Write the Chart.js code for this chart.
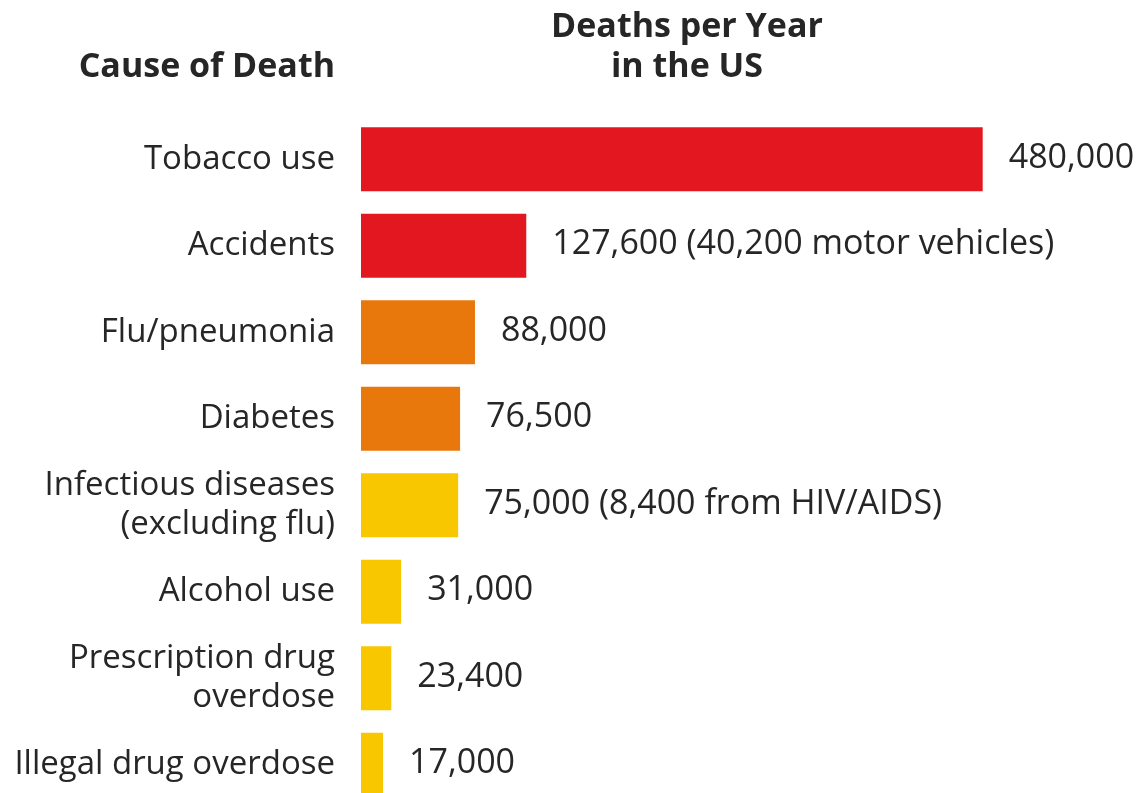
<!DOCTYPE html>
<html>
<head>
<meta charset="utf-8">
<title>Deaths per Year in the US</title>
<script src="https://cdn.jsdelivr.net/npm/chart.js@4/dist/chart.umd.min.js"></script>
<style>
  html, body { margin: 0; padding: 0; background: #fff; overflow: hidden; }
  #clip { width: 1142px; height: 793px; overflow: hidden; }
  #chart { display: block; width: 1142px; height: 808px; }
</style>
</head>
<body>
<div id="clip">
  <canvas id="chart" width="1142" height="808"></canvas>
</div>
<script>
// data
const causes = [
  'Tobacco use',
  'Accidents',
  'Flu/pneumonia',
  'Diabetes',
  ['Infectious diseases', '(excluding flu)'],
  'Alcohol use',
  ['Prescription drug', 'overdose'],
  'Illegal drug overdose'
];
const deaths = [480000, 127600, 88000, 76500, 75000, 31000, 23400, 17000];
const valueLabels = [
  '480,000',
  '127,600 (40,200 motor vehicles)',
  '88,000',
  '76,500',
  '75,000 (8,400 from HIV/AIDS)',
  '31,000',
  '23,400',
  '17,000'
];

const RED = '#E3171F', ORANGE = '#E9780C', YELLOW = '#F9C700';
const barColors = [RED, RED, ORANGE, ORANGE, YELLOW, YELLOW, YELLOW, YELLOW];
const textColor = '#262626';
const fontFamily = '"Open Sans", "Noto Sans", sans-serif';

// value text at the end of each bar
const valueLabelPlugin = {
  id: 'valueLabels',
  afterDatasetsDraw(chart) {
    const ctx = chart.ctx;
    const meta = chart.getDatasetMeta(0);
    ctx.save();
    ctx.font = '34px ' + fontFamily;
    ctx.fillStyle = textColor;
    ctx.textAlign = 'left';
    ctx.textBaseline = 'middle';
    meta.data.forEach((bar, i) => {
      ctx.fillText(valueLabels[i], bar.x + 26, bar.y - 1);
    });
    ctx.restore();
  }
};

// the two column headers
const headerPlugin = {
  id: 'headers',
  afterDraw(chart) {
    const ctx = chart.ctx;
    const yScale = chart.scales.y;
    ctx.save();
    ctx.font = 'bold 34px ' + fontFamily;
    ctx.fillStyle = textColor;
    ctx.textBaseline = 'alphabetic';
    ctx.textAlign = 'right';
    ctx.fillText('Cause of Death', yScale.right - 26, 77);
    ctx.textAlign = 'center';
    ctx.fillText('Deaths per Year', 687, 37);
    ctx.fillText('in the US', 687, 77);
    ctx.restore();
  }
};

new Chart(document.getElementById('chart'), {
  type: 'bar',
  data: {
    labels: causes,
    datasets: [{
      data: deaths,
      backgroundColor: barColors,
      borderWidth: 0,
      categoryPercentage: 1,
      barPercentage: 0.74
    }]
  },
  options: {
    indexAxis: 'y',
    responsive: false,
    animation: false,
    devicePixelRatio: 1,
    layout: { padding: { top: 116, left: 0, right: 0, bottom: 0 } },
    plugins: {
      legend: { display: false },
      tooltip: { enabled: false },
      title: { display: false }
    },
    scales: {
      x: {
        display: false,
        min: 0,
        max: 603000
      },
      y: {
        grid: { display: false, drawTicks: false },
        border: { display: false },
        afterFit(scale) {
          scale.width = 361;
          // let the last row run off the bottom edge like the original
          scale.paddingTop = 0;
          scale.paddingBottom = 0;
        },
        ticks: {
          padding: 26,
          color: textColor,
          font: { family: fontFamily, size: 33, lineHeight: 1.2 }
        }
      }
    }
  },
  plugins: [valueLabelPlugin, headerPlugin]
});
</script>
</body>
</html>
